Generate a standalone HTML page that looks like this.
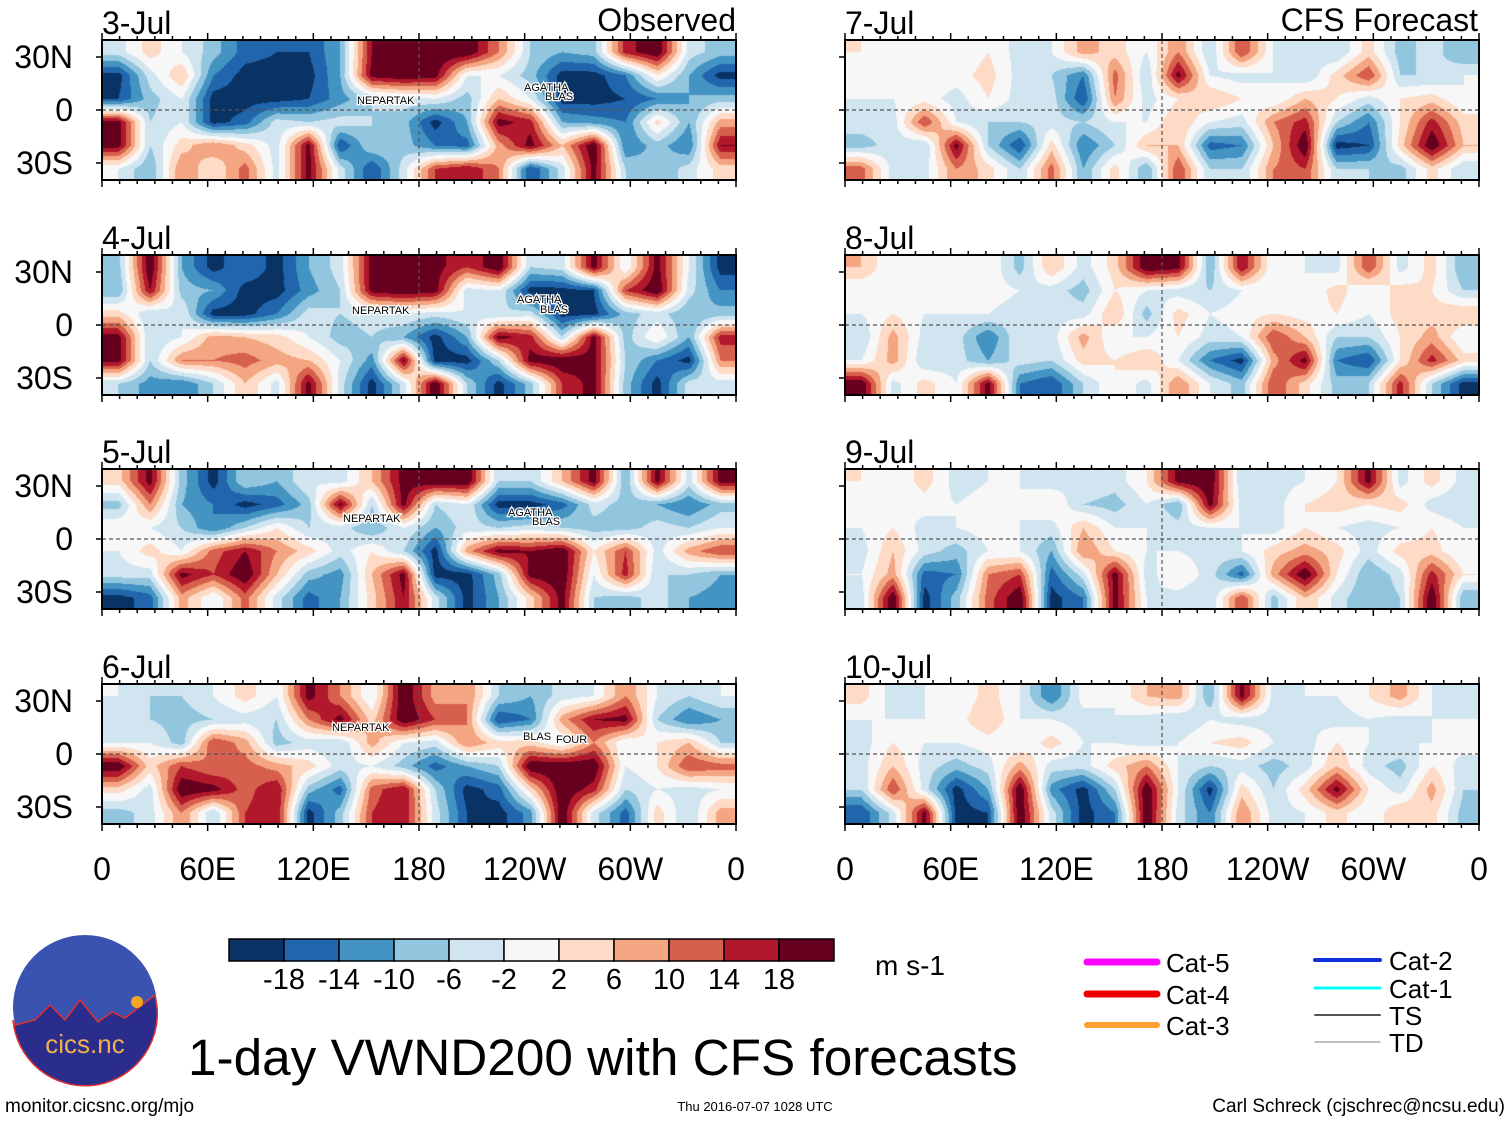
<!DOCTYPE html>
<html><head><meta charset="utf-8"><style>
body{margin:0;width:1510px;height:1121px;background:#fff;position:relative;overflow:hidden;font-family:"Liberation Sans",sans-serif}
canvas{position:absolute}
svg{position:absolute;left:0;top:0}
</style></head><body>
<div id="maps"></div>
<svg id="ov" width="1510" height="1121"></svg>
<script>
const levels=[-18,-14,-10,-6,-2,2,6,10,14,18];
const colors=['#0a3365','#2166ac','#4393c3','#92c5de','#d1e5f0','#f7f7f7','#fddbc7','#f4a582','#d6604d','#b2182b','#67001f'];
const dates=['3-Jul','4-Jul','5-Jul','6-Jul','7-Jul','8-Jul','9-Jul','10-Jul'];
const xTicks=['0','60E','120E','180','120W','60W','0'];
const yTicks=['30N','0','30S'];
const legendLabels=['-18','-14','-10','-6','-2','2','6','10','14','18'];
const p1=[[-4,4,-2,-8,-16,-18,-18,-10,18,22,22,22,10,-6,-10,-8,16,22,-4,-8],
[-20,-4,6,-14,-20,-20,-20,-10,20,22,20,-2,-2,-8,-20,-20,-14,2,-10,-20],
[-18,-8,-2,-20,-20,-20,-18,-12,-6,-4,-2,-8,6,-2,-20,-20,-18,-14,-10,-8],
[20,-6,-2,-20,-16,-4,-6,-4,-6,-8,-20,-10,20,16,-10,-12,-14,4,-10,8],
[20,-6,4,10,4,-4,20,-18,-6,-8,-14,-16,8,20,6,22,-14,-8,-14,18],
[-2,-10,10,2,12,-4,20,-4,-18,-4,14,18,10,-18,-4,20,-6,-10,-4,4]];
const p2=[[-8,22,-10,-20,-14,-20,-10,-4,20,22,20,14,22,-6,-4,20,-2,20,-2,-20],
[-10,18,-8,-10,-20,-20,-12,-6,20,22,20,-4,-2,-20,-20,-18,14,22,-4,-14],
[4,-6,-2,-20,-20,-14,-4,-6,-4,-2,-4,-2,-6,-4,-20,-20,-8,-4,-10,-8],
[20,-6,-2,8,6,4,-2,-8,-6,-10,-20,-10,20,16,-6,20,-8,2,-10,16],
[20,-6,10,10,12,8,6,-2,-12,20,-20,-20,-6,20,22,20,-6,-14,-20,10],
[-6,-12,-14,-6,6,-4,20,-4,-20,-4,22,-6,-20,-8,14,20,-8,-20,-4,-4]];
const p3=[[4,20,-8,-20,-6,-10,-2,-4,6,20,22,22,-6,-6,6,20,-10,20,-4,20],
[-8,10,-10,-14,-20,-16,-8,20,-6,20,-6,-2,-20,-20,-16,-4,-8,-10,-14,-8],
[2,-2,-6,-14,-6,2,-6,-4,-10,-2,-10,-4,-6,-4,-6,-8,-8,-4,-6,-2],
[-2,4,-2,12,18,10,4,-4,2,-6,-20,8,20,18,22,2,14,-4,8,14],
[-4,-4,20,14,22,6,-8,-12,6,20,-20,-20,-8,20,22,-2,16,-6,-6,-10],
[-20,-16,8,-2,12,-4,-16,-10,4,18,-4,-20,-10,4,20,-6,-8,-4,-10,-12]];
const p4=[[-2,-6,-6,-2,4,-2,20,10,-2,22,8,10,-6,-10,-4,-2,10,-2,-6,-2],
[-4,-6,-8,-6,-4,-6,10,20,4,22,14,10,-18,-14,8,18,20,-6,-14,-10],
[-2,-2,-8,14,8,-8,-4,-6,8,-2,-4,10,4,4,-2,10,-2,2,6,-6],
[22,4,14,10,12,8,4,-4,-2,-8,-16,-10,-6,22,22,22,-2,2,14,12],
[4,-4,22,20,12,18,-8,-16,12,18,-6,-20,-16,4,22,16,-6,-2,-4,-2],
[-8,-4,10,-6,14,18,-20,-8,14,18,-4,-18,-20,-12,22,-4,-16,4,-6,8]];
const p5=[[2,-2,0,-2,2,-4,-2,8,4,-2,10,-6,14,-2,-4,-6,4,-8,-4,-10],
[0,-2,2,0,4,-4,-6,-14,12,-6,20,-2,-4,-2,-6,4,14,-6,-6,-2],
[-2,-2,0,-4,2,-4,-4,-18,10,-4,2,6,2,-2,6,2,-4,2,4,-2],
[-4,-4,14,-2,-6,-6,-4,-6,-2,-2,6,-2,-4,10,16,-6,-14,2,16,4],
[-8,-4,-6,20,-6,-18,4,-14,-6,6,6,-16,-14,6,22,-20,-18,4,22,6],
[12,-4,-4,10,4,-6,12,-10,4,-10,14,-6,-6,10,14,-6,-6,-8,4,-6]];
const p6=[[6,-2,-2,0,2,-8,6,-4,4,22,20,-10,18,-2,-2,-4,14,-4,4,-10],
[-2,0,-2,0,0,-2,-4,-8,2,-2,-4,-6,-2,-2,-2,4,-2,4,2,-6],
[-2,2,-2,-2,-2,-4,-4,-4,6,-8,4,-2,0,2,0,2,-2,4,4,6],
[-6,8,-4,-4,-14,-2,-4,8,-2,-2,2,-4,-2,14,6,-6,-6,2,8,-2],
[-2,8,-6,-4,-10,-4,-6,4,2,6,-2,-14,-20,8,20,-14,-18,2,16,4],
[22,-4,4,-2,20,-14,-18,-6,2,-4,10,-2,-8,14,4,-8,-6,16,-6,-20]];
const p7=[[2,-2,4,-4,-2,-2,-4,-2,-4,2,20,22,-6,-4,-2,2,20,-4,4,-4],
[-2,-2,0,-2,0,-2,2,-6,-8,-2,-10,20,-4,-4,2,4,2,4,-4,-6],
[-2,2,-4,-2,0,-2,-4,6,-2,-2,-4,-2,-2,-4,2,-2,-4,-2,2,-2],
[-4,6,-4,-8,-2,-2,-10,10,2,-2,-2,-4,-2,4,8,4,-4,4,4,-2],
[-2,8,-16,-14,10,14,-16,-4,20,-4,2,-4,-16,8,22,2,-10,-4,16,2],
[-4,22,-20,-8,12,22,-20,-14,20,-2,-4,-6,14,-8,6,-4,-10,-6,22,-10]];
const p8=[[4,-4,-2,-2,4,-2,-14,0,-2,6,8,-10,20,-4,-2,-2,2,8,-2,-4],
[-2,-2,-2,0,6,-2,-2,-4,-2,-4,-6,-2,-4,-4,-2,-4,-2,-4,-2,-2],
[-4,2,-2,-2,0,-2,4,-2,-2,-4,-2,2,4,-2,-4,2,-2,-2,-2,0],
[-4,6,-4,-8,-4,8,-4,-4,4,10,-2,-6,-4,-8,-4,6,-4,-8,2,-4],
[-6,14,-4,-20,-10,22,-12,-20,-6,22,-2,-20,4,-6,4,20,2,-4,8,-6],
[-18,-4,20,-20,-18,22,-4,-20,-14,22,-4,-14,10,-4,-2,4,-2,6,4,-8]];
const panelsData=[p1,p2,p3,p4,p5,p6,p7,p8];

function colorFor(v){let i=0;while(i<levels.length&&v>=levels[i])i++;return colors[i];}
function hexRGB(h){return [parseInt(h.substr(1,2),16),parseInt(h.substr(3,2),16),parseInt(h.substr(5,2),16)];}
const NS='http://www.w3.org/2000/svg';
const ov=document.getElementById('ov');
function el(tag,attrs,parent,text){const e=document.createElementNS(NS,tag);for(const k in attrs)e.setAttribute(k,attrs[k]);if(text!==undefined)e.textContent=text;(parent||ov).appendChild(e);return e;}
const rowsY=[40,255,469,684];const colsX=[102,845];const PW=634,PH=140;
const maps=document.getElementById('maps');
panelsData.forEach((grid,pi)=>{
  const x0=colsX[pi<4?0:1], y0=rowsY[pi%4];
  const cv=document.createElement('canvas');cv.width=PW;cv.height=PH;cv.style.left=x0+'px';cv.style.top=y0+'px';
  
  
  maps.appendChild(cv);
  const ctx=cv.getContext('2d');const img=ctx.createImageData(PW,PH);
  const nr=grid.length,nc=grid[0].length;
  for(let y=0;y<PH;y++){let gy=Math.min(Math.max(y/PH*nr-0.5,0),nr-1);const r0=Math.floor(gy),r1=Math.min(r0+1,nr-1),fy=gy-r0;
    for(let x=0;x<PW;x++){let gx=Math.min(Math.max(x/PW*nc-0.5,0),nc-1);const c0=Math.floor(gx),c1=Math.min(c0+1,nc-1),fx=gx-c0;
      const v=(grid[r0][c0]*(1-fx)+grid[r0][c1]*fx)*(1-fy)+(grid[r1][c0]*(1-fx)+grid[r1][c1]*fx)*fy;
      const c=hexRGB(colorFor(v));const k=(y*PW+x)*4;img.data[k]=c[0];img.data[k+1]=c[1];img.data[k+2]=c[2];img.data[k+3]=255;}}
  ctx.putImageData(img,0,0);
  const g=el('g',{});
  el('line',{x1:x0,x2:x0+PW,y1:y0+PH/2,y2:y0+PH/2,stroke:'#555','stroke-dasharray':'4,3','stroke-width':1.2},g);
  el('line',{x1:x0+PW/2,x2:x0+PW/2,y1:y0,y2:y0+PH,stroke:'#555','stroke-dasharray':'4,3','stroke-width':1.2},g);
  el('rect',{x:x0,y:y0,width:PW,height:PH,fill:'none',stroke:'#000','stroke-width':2},g);
  for(let i=0;i<=36;i++){const tx=x0+PW*i/36;const L=i%6==0?7:4;
    el('line',{x1:tx,x2:tx,y1:y0,y2:y0-L,stroke:'#000','stroke-width':1.5},g);
    el('line',{x1:tx,x2:tx,y1:y0+PH,y2:y0+PH+L,stroke:'#000','stroke-width':1.5},g);}
  const t=el('text',{x:x0,y:y0-6,'font-size':32},g,dates[pi]);
  if(pi<4){yTicks.forEach((lab,j)=>{const yy=y0+PH/2+(j-1)*53;
    const tt=el('text',{x:73,y:yy+11,'font-size':32,'text-anchor':'end'},g,lab);
    el('line',{x1:x0,x2:x0-6,y1:yy,y2:yy,stroke:'#000','stroke-width':1.5},g);});}
  else{[0,1,2].forEach(j=>{const yy=y0+PH/2+(j-1)*53;el('line',{x1:x0,x2:x0-6,y1:yy,y2:yy,stroke:'#000','stroke-width':1.5},g);});}
  if(pi%4==3){xTicks.forEach((lab,j)=>{const tt=el('text',{x:x0+PW*j/6,y:880,'font-size':32,'text-anchor':'middle'},g,lab);});}
});
let t1=el('text',{x:736,y:31,'font-size':32,'text-anchor':'end'},ov,'Observed');
let t2=el('text',{x:1478,y:31,'font-size':32,'text-anchor':'end'},ov,'CFS Forecast');
const cb=el('g',{});
colors.forEach((c,i)=>{el('rect',{x:229+i*55,y:939,width:55,height:22,fill:c,stroke:'#000','stroke-width':1.5},cb);});
legendLabels.forEach((l,i)=>{const tt=el('text',{x:284+i*55,y:989,'font-size':29,'text-anchor':'middle'},cb,l);});
let u=el('text',{x:875,y:975,'font-size':28},ov,'m s-1');
const lg=el('g',{});
[['Cat-5','#ff00ff',1087,1157,962,7,''],['Cat-4','#ee0000',1087,1157,994,7,''],['Cat-3','#ffa030',1087,1157,1025,6,'2,1'],['Cat-2','#1030e0',1315,1380,960,4,''],['Cat-1','#00ffff',1315,1380,988,3,''],['TS','#555',1315,1380,1015,2,''],['TD','#aaa',1315,1380,1042,1.5,'']].forEach(e=>{
  const gg=el('g',{},lg);
  el('line',{x1:e[2],x2:e[3],y1:e[4],y2:e[4],stroke:e[1],'stroke-width':e[5],'stroke-linecap':'round','stroke-dasharray':e[6]||'none'},gg);
  el('text',{x:e[3]+9,y:e[4]+10,'font-size':26},gg,e[0]);});
let mt=el('text',{x:188,y:1075,'font-size':51.3},ov,'1-day VWND200 with CFS forecasts');
let f1=el('text',{x:5,y:1112,'font-size':19},ov,'monitor.cicsnc.org/mjo');
let f2=el('text',{x:755,y:1111,'font-size':13,'text-anchor':'middle'},ov,'Thu 2016-07-07 1028 UTC');
let f3=el('text',{x:1505,y:1112,'font-size':19,'text-anchor':'end'},ov,'Carl Schreck (cjschrec@ncsu.edu)');
const lo=el('g',{});
el('circle',{cx:85,cy:1007,r:72,fill:'#3a52b0'},lo);
el('path',{d:'M15,1025 L35,1020 L50,1005 L65,1020 L80,1000 L98,1022 L112,1012 L125,1018 L155,995 L157,1007 A72,72 0 0 1 13,1020 Z',fill:'#2a2d8c',stroke:'#e03030','stroke-width':1.5},lo);
el('circle',{cx:137,cy:1002,r:6,fill:'#f5a623'},lo);
el('text',{x:85,y:1053,'font-size':26,fill:'#f0b050','text-anchor':'middle'},lo,'cics.nc');
[['NEPARTAK',357,104],['AGATHA',524,91],['BLAS',545,100],['NEPARTAK',352,314],['AGATHA',517,303],['BLAS',540,313],['NEPARTAK',343,522],['AGATHA',508,516],['BLAS',532,525],['NEPARTAK',332,731],['BLAS',523,740],['FOUR',556,743]].forEach(s=>{
  const tt=el('text',{x:s[1],y:s[2],'font-size':11,fill:'#000',stroke:'#fff','stroke-width':2.5,'paint-order':'stroke'},ov,s[0]);});
</script>
</body></html>
